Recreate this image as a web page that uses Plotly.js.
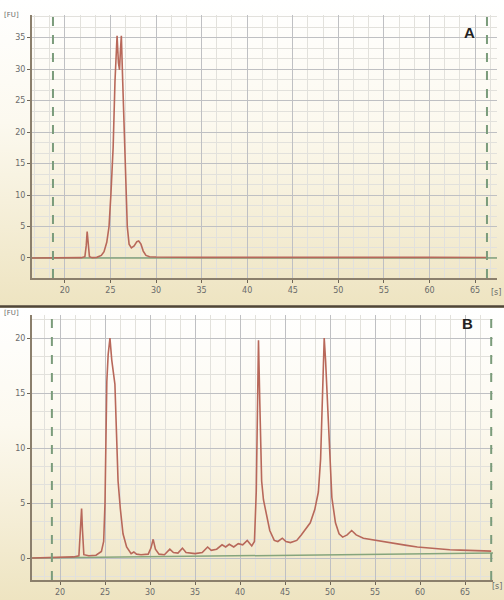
<!DOCTYPE html>
<html>
<head>
<meta charset="utf-8">
<script src="https://cdn.plot.ly/plotly-3.0.1.min.js"></script>
<style>html,body{margin:0;padding:0;background:#f1e9cb;}#plot{width:504px;height:600px;}</style>
</head>
<body>
<div id="plot"></div>
<script>
// Panel A: electropherogram (time [s], fluorescence [FU])
const timeA = [16.4, 18, 20, 21.8, 22.2, 22.35, 22.45, 22.55, 22.7, 23.0, 23.5, 24.0, 24.3, 24.6, 24.85, 25.05, 25.3, 25.5, 25.73, 25.88, 26.0, 26.1, 26.2, 26.35, 26.55, 26.7, 26.85, 27.05, 27.3, 27.6, 27.9, 28.1, 28.35, 28.6, 28.9, 29.3, 30, 35, 40, 45, 50, 55, 60, 66.4];
const fuA   = [0, 0, 0, 0.05, 0.2, 2.0, 4.2, 2.0, 0.2, 0.05, 0.1, 0.4, 1.0, 2.5, 5, 10, 17.6, 28, 35.3, 31, 29.9, 33, 35.3, 28, 17.6, 10, 5, 2.2, 1.6, 1.9, 2.6, 2.7, 2.2, 1.1, 0.4, 0.2, 0.15, 0.1, 0.12, 0.1, 0.12, 0.1, 0.1, 0.08];
const baseTimeA = [16.4, 67.4];
const baseFuA = [0, 0];
const markersA = [18.7, 66.3];

// Panel B
const timeB = [16.9, 19, 21.5, 22.1, 22.3, 22.4, 22.5, 22.65, 23.2, 24.0, 24.6, 24.85, 25.0, 25.1, 25.2, 25.35, 25.55, 25.75, 25.95, 26.1, 26.25, 26.45, 26.7, 27.0, 27.4, 27.7, 27.9, 28.2, 28.5, 29.0, 29.8, 30.1, 30.35, 30.6, 31.0, 31.6, 32.2, 32.6, 33.1, 33.6, 34.0, 35.0, 35.8, 36.4, 36.8, 37.4, 38.0, 38.4, 38.8, 39.3, 39.8, 40.3, 40.8, 41.3, 41.6, 41.8, 41.95, 42.05, 42.2, 42.4, 42.6, 42.9, 43.3, 43.8, 44.2, 44.7, 45.1, 45.6, 46.3, 46.8, 47.2, 47.8, 48.3, 48.7, 48.95, 49.15, 49.35, 49.5, 49.7, 49.95, 50.2, 50.6, 51.0, 51.4, 51.9, 52.4, 52.9, 53.7, 54.4, 55.2, 56.0, 56.7, 57.4, 58.5, 59.7, 61.0, 62.2, 63.3, 64.5, 65.5, 66.5, 67.9];
const fuB   = [0, 0.05, 0.1, 0.2, 2.5, 4.5, 2.5, 0.3, 0.2, 0.25, 0.6, 1.5, 5, 12, 16, 18.5, 20, 18, 16.5, 15.8, 12, 7, 4.5, 2.2, 1.0, 0.6, 0.4, 0.55, 0.35, 0.3, 0.35, 0.9, 1.7, 0.8, 0.35, 0.3, 0.8, 0.5, 0.45, 0.9, 0.5, 0.4, 0.5, 1.0, 0.7, 0.8, 1.2, 1.0, 1.25, 1.0, 1.3, 1.2, 1.6, 1.1, 1.5, 6, 15, 19.8, 14, 7, 5.3, 4, 2.5, 1.6, 1.5, 1.8, 1.5, 1.4, 1.6, 2.1, 2.5, 3.2, 4.4, 6, 9, 15, 20, 18, 14.4, 9, 5.5, 3.2, 2.2, 1.9, 2.1, 2.5, 2.1, 1.8, 1.7, 1.6, 1.45, 1.35, 1.3, 1.15, 1.0, 0.9, 0.8, 0.75, 0.72, 0.68, 0.66, 0.63];
const baseTimeB = [16.9, 68.1];
const baseFuB = [0, 0.45];
const markersB = [19.1, 67.9];

const xTicks = [20, 25, 30, 35, 40, 45, 50, 55, 60, 65];
const yTicksA = [0, 5, 10, 15, 20, 25, 30, 35];
const yTicksB = [0, 5, 10, 15, 20];

const traceColor = '#b8685a';
const baseColor = '#86a57c';
const dashColor = '#7b9c7b';

const grad = 'data:image/svg+xml;utf8,' + encodeURIComponent('<svg xmlns="http://www.w3.org/2000/svg" width="10" height="100" viewBox="0 0 10 100" preserveAspectRatio="none"><defs><linearGradient id="g" x1="0" y1="0" x2="0" y2="1"><stop offset="0" stop-color="#ffffff"/><stop offset="0.4" stop-color="#fcf9ef"/><stop offset="1" stop-color="#eee4c1"/></linearGradient></defs><rect width="10" height="100" fill="url(#g)"/></svg>');

const data = [
  {x: baseTimeA, y: baseFuA, xaxis: 'x', yaxis: 'y', mode: 'lines', line: {color: baseColor, width: 1.5}, hoverinfo: 'skip'},
  {x: timeA, y: fuA, xaxis: 'x', yaxis: 'y', mode: 'lines', line: {color: traceColor, width: 1.6}},
  {x: baseTimeB, y: baseFuB, xaxis: 'x2', yaxis: 'y2', mode: 'lines', line: {color: baseColor, width: 1.5}, hoverinfo: 'skip'},
  {x: timeB, y: fuB, xaxis: 'x2', yaxis: 'y2', mode: 'lines', line: {color: traceColor, width: 1.6}}
];

const tickFont = {family: 'DejaVu Sans, sans-serif', size: 8, color: '#6a6a6a'};
function xAxis(range, domain, anchor) {
  return {
    range: range, domain: domain, anchor: anchor,
    tickvals: xTicks, ticks: 'outside', ticklen: 3, tickwidth: 1, tickcolor: '#6f6658',
    tickfont: tickFont, showline: true, linecolor: '#8b7f6c', linewidth: 2,
    showgrid: true, gridcolor: '#bfc0c3', gridwidth: 1, zeroline: false,
    minor: {dtick: 5/3, tick0: 0, showgrid: true, gridcolor: '#e2e1dc', gridwidth: 1},
    fixedrange: true
  };
}
function yAxis(range, domain, anchor, vals) {
  return {
    range: range, domain: domain, anchor: anchor,
    tickvals: vals, ticks: 'outside', ticklen: 3, tickwidth: 1, tickcolor: '#6f6658',
    tickfont: tickFont, showline: true, linecolor: '#8b7f6c', linewidth: 2,
    showgrid: true, gridcolor: '#bfc0c3', gridwidth: 1, zeroline: false,
    minor: {dtick: 5/3, tick0: 0, showgrid: true, gridcolor: '#e2e1dc', gridwidth: 1},
    fixedrange: true
  };
}

function vdash(xv, xref, yref) {
  return {type: 'line', xref: xref, yref: yref + ' domain', x0: xv, x1: xv, y0: 0, y1: 1,
          line: {color: dashColor, width: 2, dash: 'dash'}};
}

const layout = {
  width: 504, height: 600,
  margin: {l: 0, r: 0, t: 0, b: 0},
  paper_bgcolor: '#f1e9cb',
  plot_bgcolor: 'rgba(0,0,0,0)',
  showlegend: false,
  xaxis: xAxis([16.4, 67.4], [32/504, 497/504], 'y'),
  yaxis: yAxis([-3.18, 38.6], [1 - 278/600, 1 - 15/600], 'x', yTicksA),
  xaxis2: xAxis([16.89, 68.1], [32/504, 493/504], 'y2'),
  yaxis2: yAxis([-2.0, 22.1], [1 - 580/600, 1 - 315/600], 'x2', yTicksB),
  images: [
    {source: grad, xref: 'paper', yref: 'paper', x: 0, y: 1, sizex: 1, sizey: 306/600, sizing: 'stretch', layer: 'below', xanchor: 'left', yanchor: 'top'},
    {source: grad, xref: 'paper', yref: 'paper', x: 0, y: 1 - 308/600, sizex: 1, sizey: 292/600, sizing: 'stretch', layer: 'below', xanchor: 'left', yanchor: 'top'}
  ],
  shapes: [
    vdash(markersA[0], 'x', 'y'), vdash(markersA[1], 'x', 'y'),
    vdash(markersB[0], 'x2', 'y2'), vdash(markersB[1], 'x2', 'y2'),
    {type: 'line', xref: 'paper', yref: 'paper', x0: 0, x1: 1, y0: 1 - 306.5/600, y1: 1 - 306.5/600, line: {color: '#4f4638', width: 2.5}}
  ],
  annotations: [
    {text: '<b>A</b>', xref: 'paper', yref: 'paper', x: 477/504, y: 1 - 22/600, showarrow: false, font: {family: 'Liberation Sans, Arial, sans-serif', size: 15, color: '#222'}},
    {text: '<b>B</b>', xref: 'paper', yref: 'paper', x: 475/504, y: 1 - 323/600, showarrow: false, font: {family: 'Liberation Sans, Arial, sans-serif', size: 15, color: '#222'}},
    {text: '[FU]', xref: 'paper', yref: 'paper', x: 2/504, y: 1 - 9/600, xanchor: 'left', showarrow: false, font: {family: 'DejaVu Sans, sans-serif', size: 7, color: '#6a6a6a'}},
    {text: '[FU]', xref: 'paper', yref: 'paper', x: 2/504, y: 1 - 313/600, xanchor: 'left', showarrow: false, font: {family: 'DejaVu Sans, sans-serif', size: 7, color: '#6a6a6a'}},
    {text: '[s]', xref: 'paper', yref: 'paper', x: 503/504, y: 1 - 292/600, xanchor: 'right', showarrow: false, font: {family: 'DejaVu Sans, sans-serif', size: 8, color: '#6a6a6a'}},
    {text: '[s]', xref: 'paper', yref: 'paper', x: 504/504, y: 1 - 593/600, xanchor: 'right', showarrow: false, font: {family: 'DejaVu Sans, sans-serif', size: 8, color: '#6a6a6a'}}
  ]
};

Plotly.newPlot('plot', data, layout, {displayModeBar: false, staticPlot: true});
</script>
</body>
</html>
